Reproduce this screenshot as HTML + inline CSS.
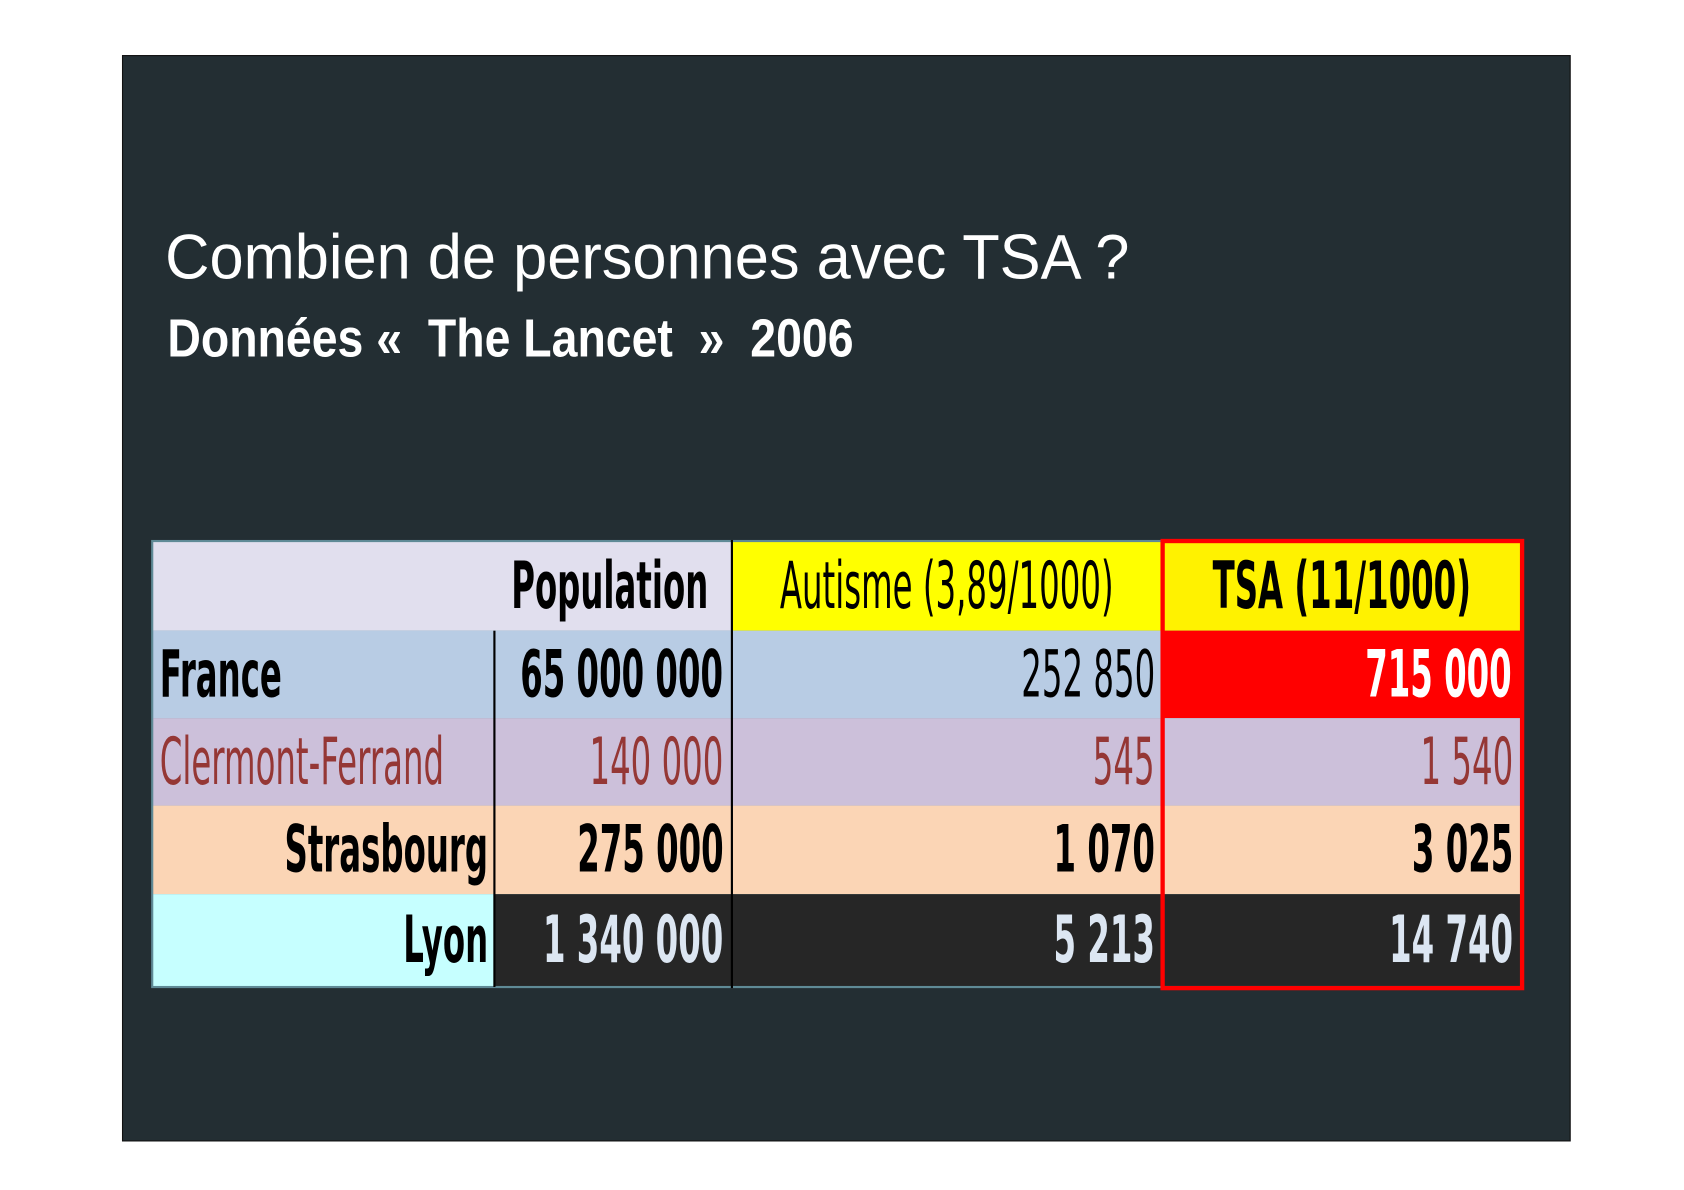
<!DOCTYPE html>
<html><head><meta charset="utf-8"><style>
html,body{margin:0;padding:0;background:#fff;width:1684px;height:1190px;overflow:hidden}
#stage{position:absolute;left:0;top:0;width:1560px;height:1102px;transform:scale(1.0795,1.0799);transform-origin:0 0}
.abs{position:absolute}
#slide{left:113px;top:51px;width:1340px;height:1004px;background:#232e33;border:1px solid #111}
.cell{position:absolute;overflow:hidden;font-family:"DejaVu Sans","Liberation Sans",sans-serif;font-size:60px;line-height:1}
.cell span{position:absolute;top:50%;white-space:nowrap;transform-origin:right center}
.r span{right:6px;transform:translateY(-50%) scaleX(0.5)}
.l span{left:6px;transform-origin:left center;transform:translateY(-50%) scaleX(0.5)}
.c span{left:50%;transform-origin:center center;transform:translate(-50%,-50%) scaleX(0.5)}
.b{font-weight:bold}
</style></head><body>
<div id="stage">
<div id="slide" class="abs"></div>
<div class="abs" style="left:153px;top:205px;font-family:'Liberation Sans',sans-serif;font-size:58px;color:#fff;white-space:nowrap;transform:scaleX(0.98);transform-origin:left">Combien de personnes avec TSA ?</div>
<div class="abs" style="left:155px;top:284px;font-family:'Liberation Sans',sans-serif;font-weight:bold;font-size:50px;color:#fff;white-space:pre;transform:scaleX(0.86);transform-origin:left">Données «  The Lancet  »  2006</div>

<div class="abs" style="left:140px;top:500px;width:1270px;height:415px;background:#5f8a96"></div>
<!-- header -->
<div class="cell r b" style="left:142px;top:502px;width:536px;height:82px;background:#e1dfee"><span style="right:22px">Population</span></div>
<div class="cell c" style="left:678px;top:502px;width:398px;height:82px;background:#ffff00"><span>Autisme (3,89/1000)</span></div>
<div class="cell c b" style="left:1076px;top:502px;width:334px;height:82px;background:#fff200"><span>TSA (11/1000)</span></div>
<!-- France -->
<div class="cell l b" style="left:142px;top:584px;width:316px;height:81px;background:#b8cce4"><span>France</span></div>
<div class="cell r b" style="left:458px;top:584px;width:220px;height:81px;background:#b8cce4"><span style="right:8px">65 000 000</span></div>
<div class="cell r" style="left:678px;top:584px;width:398px;height:81px;background:#b8cce4"><span>252 850</span></div>
<div class="cell r b" style="left:1076px;top:584px;width:334px;height:81px;background:#ff0000;color:#fff"><span style="right:10px">715 000</span></div>
<!-- Clermont -->
<div class="cell l" style="left:142px;top:665px;width:316px;height:81px;background:#ccc0da;color:#953735"><span>Clermont-Ferrand</span></div>
<div class="cell r" style="left:458px;top:665px;width:220px;height:81px;background:#ccc0da;color:#953735"><span style="right:8px">140 000</span></div>
<div class="cell r" style="left:678px;top:665px;width:398px;height:81px;background:#ccc0da;color:#953735"><span>545</span></div>
<div class="cell r" style="left:1076px;top:665px;width:334px;height:81px;background:#ccc0da;color:#953735"><span style="right:8px">1 540</span></div>
<!-- Strasbourg -->
<div class="cell r b" style="left:142px;top:746px;width:316px;height:82px;background:#fbd5b5"><span>Strasbourg</span></div>
<div class="cell r b" style="left:458px;top:746px;width:220px;height:82px;background:#fbd5b5"><span style="right:8px">275 000</span></div>
<div class="cell r b" style="left:678px;top:746px;width:398px;height:82px;background:#fbd5b5"><span>1 070</span></div>
<div class="cell r b" style="left:1076px;top:746px;width:334px;height:82px;background:#fbd5b5"><span style="right:8px">3 025</span></div>
<!-- Lyon -->
<div class="cell r b" style="left:142px;top:828px;width:316px;height:85px;background:#c6ffff"><span>Lyon</span></div>
<div class="cell r b" style="left:458px;top:828px;width:220px;height:85px;background:#262626;color:#dce6f2"><span style="right:8px">1 340 000</span></div>
<div class="cell r b" style="left:678px;top:828px;width:398px;height:85px;background:#262626;color:#dce6f2"><span>5 213</span></div>
<div class="cell r b" style="left:1076px;top:828px;width:334px;height:85px;background:#262626;color:#dce6f2"><span style="right:8px">14 740</span></div>
<!-- dividers -->
<div class="abs" style="left:457px;top:584px;width:2px;height:330px;background:#000"></div>
<div class="abs" style="left:677px;top:500px;width:2px;height:415px;background:#000"></div>
<div class="abs" style="left:1075px;top:499px;width:329px;height:410px;border:4px solid #ff0000"></div>
</div>
</body></html>
